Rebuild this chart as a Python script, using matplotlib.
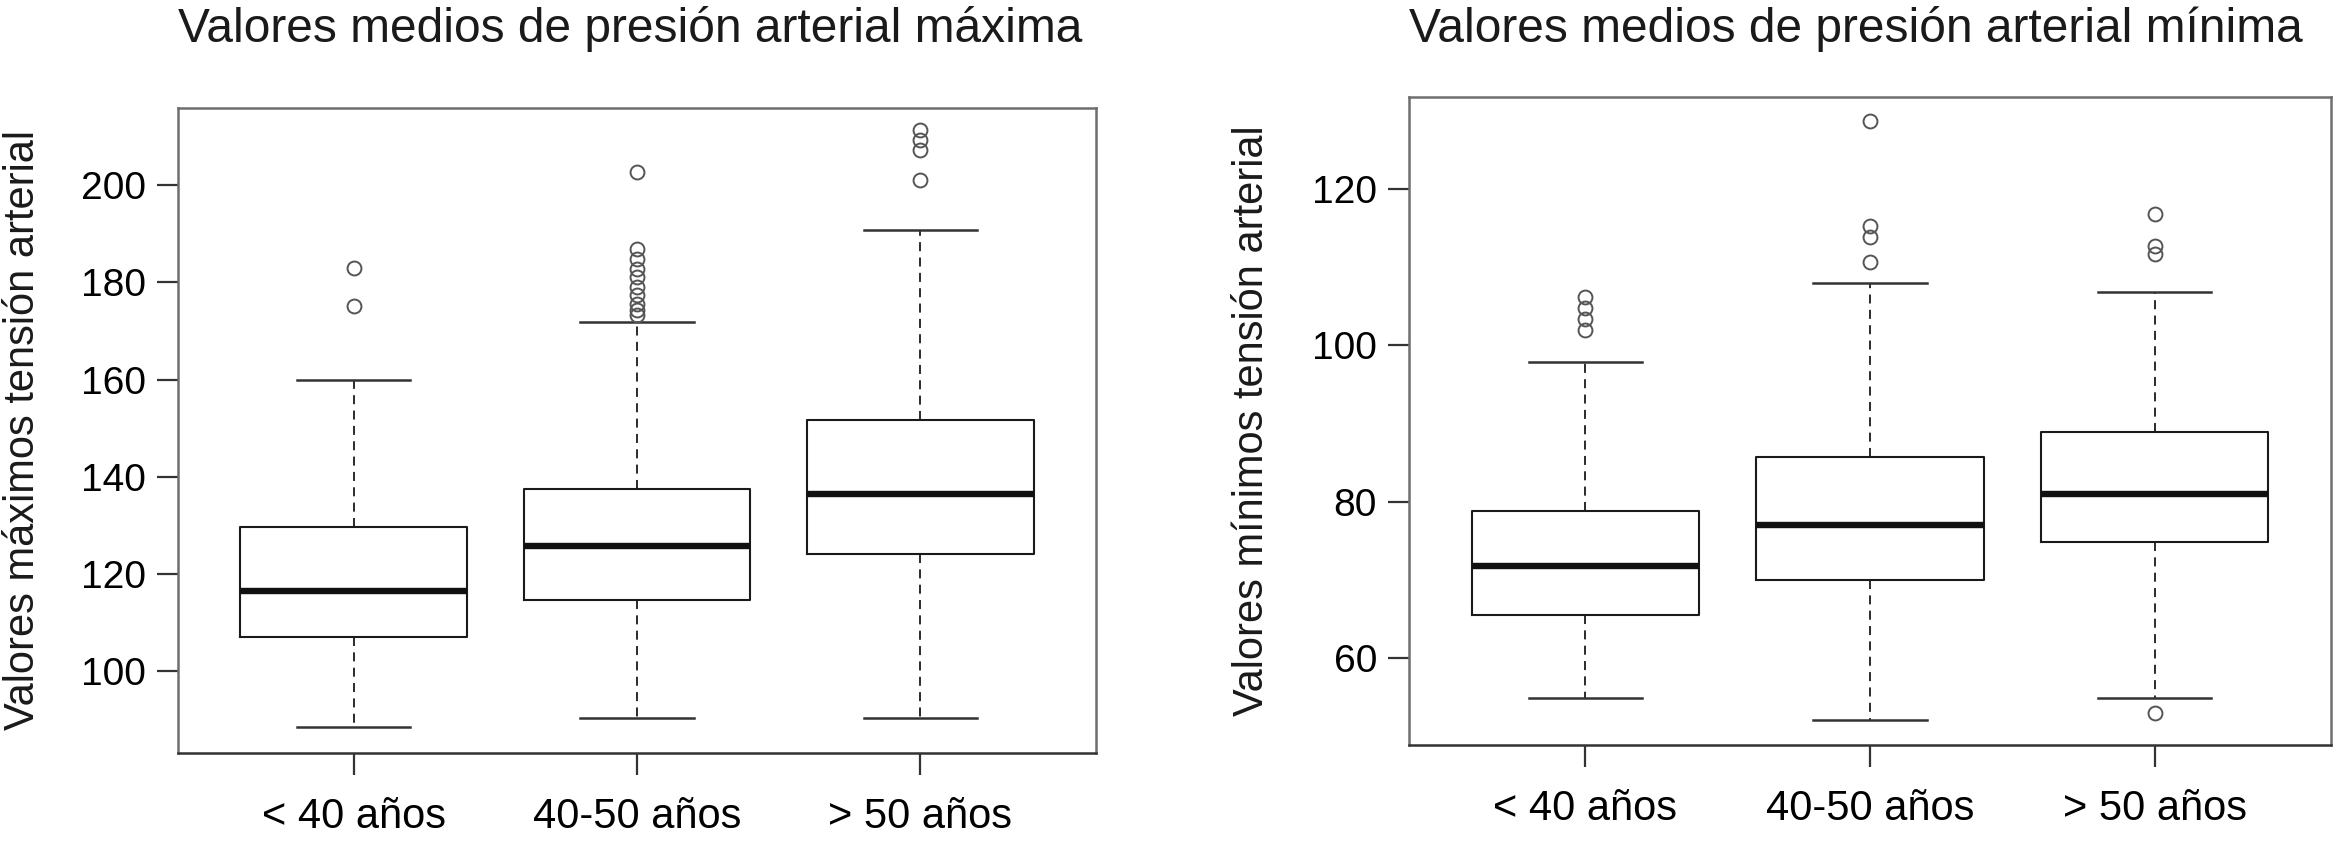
import matplotlib
matplotlib.use("Agg")
import matplotlib.pyplot as plt

plt.rcParams['font.family'] = ['Liberation Sans', 'DejaVu Sans']

# group labels
groups = ['< 40 años', '40-50 años', '> 50 años']

# systolic (max) pressure
sys_low = [88.5, 90.4, 90.4]
sys_q1 = [107.0, 114.5, 124.0]
sys_med = [116.5, 125.8, 136.5]
sys_q3 = [129.6, 137.5, 151.7]
sys_high = [160.0, 171.8, 190.7]
sys_fliers = [
    [175.1, 182.9],
    [173.3, 174.3, 175.5, 177.3, 179.0, 181.1, 182.8, 184.9, 186.9, 202.7],
    [201.0, 207.2, 209.3, 211.4],
]
sys_ticks = [100, 120, 140, 160, 180, 200]

# diastolic (min) pressure
dia_low = [54.8, 52.0, 54.8]
dia_q1 = [65.5, 69.9, 74.8]
dia_med = [71.8, 77.0, 80.9]
dia_q3 = [78.8, 85.7, 88.9]
dia_high = [97.9, 108.0, 106.8]
dia_fliers = [
    [101.9, 103.4, 104.8, 106.1],
    [110.6, 113.8, 115.3, 128.7],
    [52.9, 111.7, 112.7, 116.8],
]
dia_ticks = [60, 80, 100, 120]

titles = ['Valores medios de presión arterial máxima',
          'Valores medios de presión arterial mínima']
ylabels = ['Valores máximos tensión arterial',
           'Valores mínimos tensión arterial']


def make_stats(low, q1, med, q3, high, fliers):
    stats = []
    for i in range(len(groups)):
        stats.append(dict(whislo=low[i], q1=q1[i], med=med[i], q3=q3[i],
                          whishi=high[i], fliers=fliers[i], label=groups[i]))
    return stats


W, H = 2337, 843
fig = plt.figure(figsize=(W / 100, H / 100), dpi=100)

# axes frames in pixel coordinates (left, top, right, bottom)
frames = [(178, 108, 1096, 753), (1409, 97, 2331, 745)]
ylabel_x = [23, 1252]
ylims = [(83.1, 215.9), (48.85, 131.75)]
panels = [
    (make_stats(sys_low, sys_q1, sys_med, sys_q3, sys_high, sys_fliers), sys_ticks),
    (make_stats(dia_low, dia_q1, dia_med, dia_q3, dia_high, dia_fliers), dia_ticks),
]

for k, (stats, yt) in enumerate(panels):
    l, t, r, b = frames[k]
    ax = fig.add_axes([l / W, (H - b) / H, (r - l) / W, (b - t) / H])
    ax.bxp(stats, positions=[1, 2, 3], widths=0.8, capwidths=0.4,
           showfliers=True, patch_artist=False,
           boxprops=dict(color='#1a1a1a', linewidth=1.5),
           medianprops=dict(color='#111111', linewidth=4.6, solid_capstyle='butt'),
           whiskerprops=dict(color='#1a1a1a', linewidth=1.3, linestyle=(0, (5, 3.5))),
           capprops=dict(color='#333333', linewidth=1.8),
           flierprops=dict(marker='o', markersize=10, markerfacecolor='none',
                           markeredgecolor='#555555', markeredgewidth=1.4))
    ax.set_xlim(0.38, 3.62)
    ax.set_ylim(*ylims[k])
    ax.set_yticks(yt)
    ax.set_yticklabels([str(v) for v in yt])
    ax.set_xticks([1, 2, 3])
    ax.set_xticklabels(groups)
    ax.tick_params(axis='y', labelsize=28, length=15, width=1.6, pad=8, color='#333333')
    ax.tick_params(axis='x', labelsize=30, length=16, width=1.6, pad=16, color='#333333')
    for s in ax.spines.values():
        s.set_color('#6e6e6e')
        s.set_linewidth(1.8)
    ax.spines['bottom'].set_color('#333333')

    fig.text(l / W, 1 - 42 / H, titles[k], fontsize=34.5, ha='left', va='baseline',
             color='#1a1a1a')
    fig.text(ylabel_x[k] / W, 1 - (t + b) / 2 / H, ylabels[k], fontsize=30,
             rotation=90, ha='center', va='center', color='#1a1a1a')

fig.savefig('out.png', dpi=100, facecolor='white')
